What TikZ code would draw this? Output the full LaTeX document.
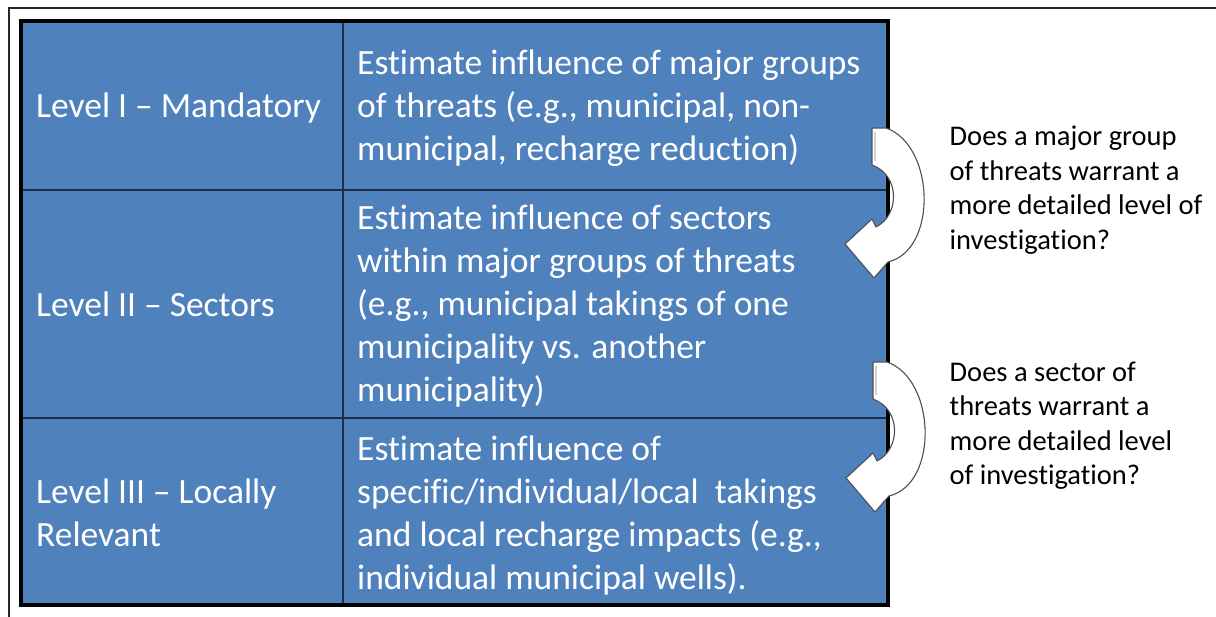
\documentclass[tikz,border=0pt]{standalone}
\usepackage{fontspec}
\setmainfont{Carlito}[Ligatures={TeX,NoCommon}]
\definecolor{cellblue}{HTML}{4F81BD}
\definecolor{gridline}{HTML}{1F2D4A}
\definecolor{arrowedge}{HTML}{4A4F57}

\tikzset{
  % multi-line nodes: the base anchor sits on the last line's baseline
  celltext/.style={anchor=base west, inner sep=0pt, align=left, text=white,
    font=\fontsize{35.5}{43}\selectfont},
  asktext/.style={anchor=base west, inner sep=0pt, align=left, text=black,
    font=\fontsize{28.5}{34.4}\selectfont},
  tableframe/.style={draw=black, line width=3.8pt},
  divider/.style={draw=gridline, line width=1.6pt},
  pageframe/.style={draw=black!85, line width=2pt},
  arrowbody/.style={fill=white, draw=arrowedge, line width=1.1pt, line join=round},
  % curved "go down one level" arrow, origin at the top-left of its tail
  turnarrow/.pic={
    \path[arrowbody] (0,0) -- (14,0)
      .. controls (63,17) and (66,122) .. (16,134)
      -- (2,150) -- (-27,116) -- (0,91) -- (4,99)
      .. controls (28,87) and (28,47) .. (0,37) -- cycle;
    \path[draw=black!18, line width=1.2pt]
      (3,4) -- (3,33);
  }
}

\begin{document}
\begin{tikzpicture}[x=1pt, y=-1pt]
  \useasboundingbox (0,0) rectangle (1216,617);

  % page frame
  \coordinate (pfBL) at (8.5,617);
  \coordinate (pfTL) at (8.5,8);
  \coordinate (pfTR) at (1216,8);
  \path[pageframe] (pfBL) -- (pfTL) -- (pfTR);

  % table body
  \coordinate (tTL) at (21,21);
  \coordinate (tBR) at (888,605);
  \fill[cellblue] (tTL) rectangle (tBR);
  \path[divider] (343,21) -- (343,605);
  \path[divider] (21,190) -- (888,190);
  \path[divider] (21,418) -- (888,418);
  \path[tableframe] (tTL) rectangle (tBR);

  % level column
  \node[celltext] (lv1) at (36,118) {Level I -- Mandatory};
  \node[celltext] (lv2) at (36,317) {Level II -- Sectors};
  \node[celltext] (lv3) at (36,546.5) {Level III -- Locally\\Relevant};

  % description column
  \node[celltext] (ds1) at (357,160.5) {Estimate influence of major groups\\of threats (e.g., municipal, non-\\municipal, recharge reduction)};
  \node[celltext] (ds2) at (357,402) {Estimate influence of sectors\\within major groups of threats\\(e.g., municipal takings of one\\municipality vs. another\\municipality)};
  \node[celltext] (ds3) at (357,589.5) {Estimate influence of\\specific/individual/local\ \ takings\\and local recharge impacts (e.g.,\\individual municipal wells).};

  % transition arrows
  \pic (ar1) at (872,128) {turnarrow};
  \pic (ar2) at (873,362) {turnarrow};

  % questions
  \node[asktext] (q1) at (949.5,249.2) {Does a major group\\of threats warrant a\\more detailed level of\\investigation?};
  \node[asktext] (q2) at (949.5,484.7) {Does a sector of\\threats warrant a\\more detailed level\\of investigation?};
\end{tikzpicture}
\end{document}
